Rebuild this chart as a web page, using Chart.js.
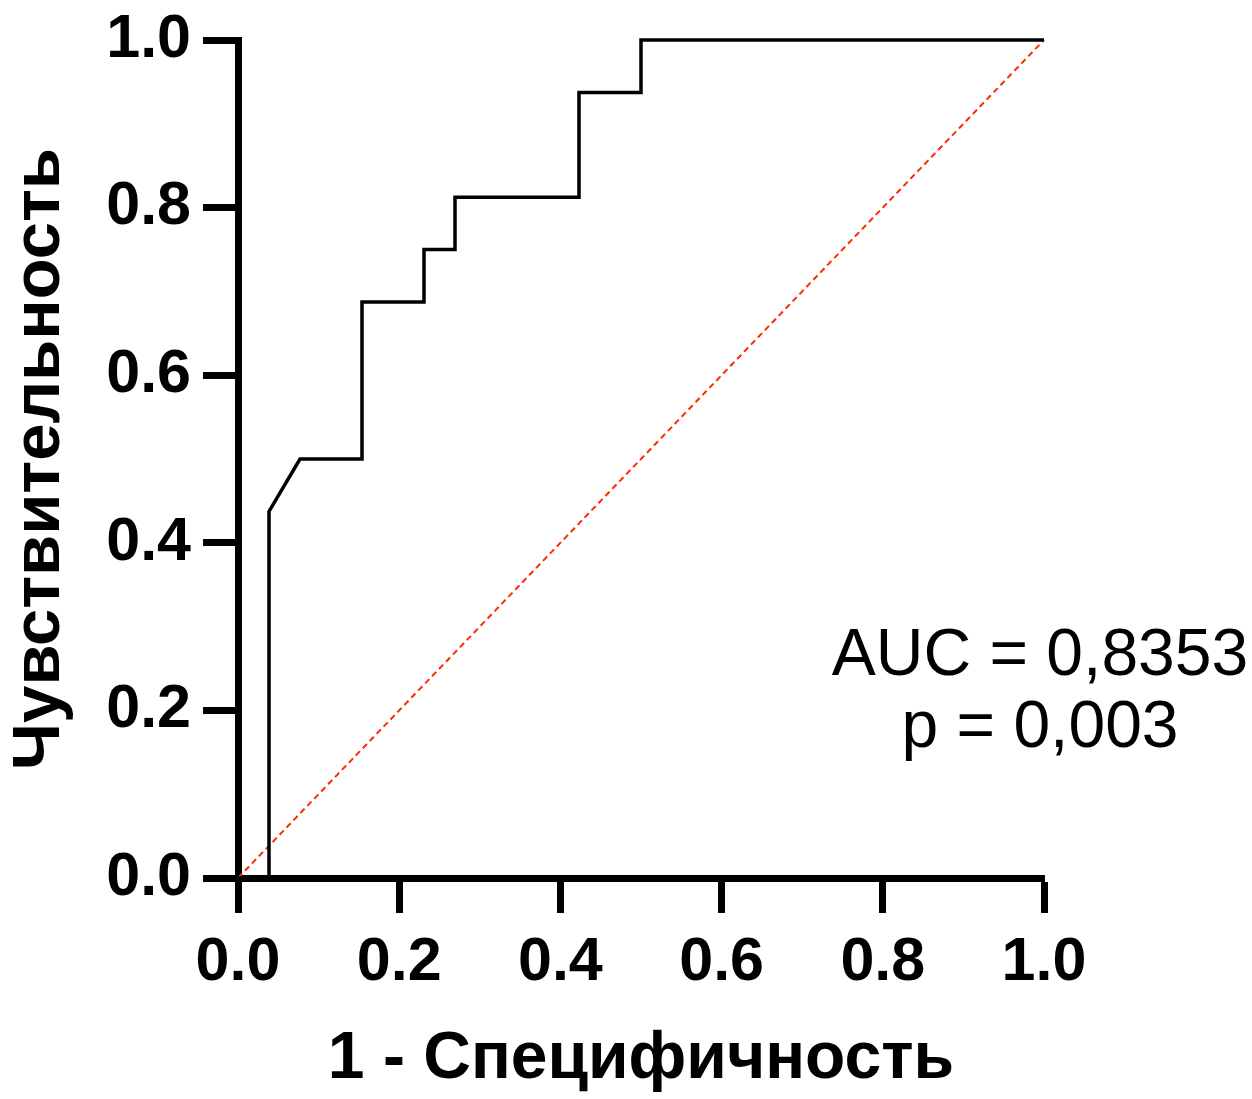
<!DOCTYPE html>
<html>
<head>
<meta charset="utf-8">
<script src="https://cdn.jsdelivr.net/npm/chart.js@4"></script>
<style>
    html, body { margin: 0; padding: 0; background: #fff; }
    #wrap { width: 1252px; height: 1099px; }
</style>
</head>
<body>
<div id="wrap"><canvas id="rocChart" width="1252" height="1099"></canvas></div>
<script>
// ROC curve (1 - specificity, sensitivity)
const fprValues = [0, 1/26, 1/26, 2/26, 4/26, 4/26, 6/26, 6/26, 7/26, 7/26, 11/26, 11/26, 13/26, 13/26, 1];
const tprValues = [0, 0, 7/16, 8/16, 8/16, 11/16, 11/16, 12/16, 12/16, 13/16, 13/16, 15/16, 15/16, 1, 1];
const refLine = [0, 1];
const tickLabels = ['0.0', '0.2', '0.4', '0.6', '0.8', '1.0'];
const xTitle = '1 - Специфичность';
const yTitle = 'Чувствительность';
const statLines = ['AUC = 0,8353', 'p = 0,003'];

const fontFamily = '"Liberation Sans", Arial, Helvetica, sans-serif';

const statsText = {
    id: 'statsText',
    afterDraw(chart) {
        const ctx = chart.ctx;
        const x = chart.scales.x.getPixelForValue(1.0);
        const y = chart.scales.y.getPixelForValue(0.24);
        ctx.save();
        ctx.fillStyle = '#000';
        ctx.font = '66px ' + fontFamily;
        ctx.textAlign = 'center';
        ctx.textBaseline = 'alphabetic';
        ctx.fillText(statLines[0], x - 4, y - 2);
        ctx.fillText(statLines[1], x - 4, y + 70);
        ctx.restore();
    }
};

const axisCommon = (title, titleSize) => ({
    type: 'linear',
    min: 0,
    max: 1,
    border: { display: true, color: '#000', width: 7 },
    grid: {
        drawOnChartArea: false,
        drawTicks: true,
        tickLength: 35,
        tickWidth: 7,
        tickColor: '#000',
    },
    ticks: {
        stepSize: 0.2,
        color: '#000',
        font: { family: fontFamily, size: 61, weight: 'bold' },
        callback: (value) => tickLabels[Math.round(value * 5)],
    },
    title: {
        display: true,
        text: title,
        color: '#000',
        font: { family: fontFamily, size: titleSize, weight: 'bold' },
    },
});

const xAxis = axisCommon(xTitle, 66);
xAxis.ticks.padding = 14;
xAxis.ticks.maxRotation = 0;
xAxis.title.padding = { top: 24, bottom: 0 };
xAxis.afterFit = (scale) => {
    scale.height = 221;
    scale.paddingLeft = 0;
    scale.paddingRight = 0;
};

const yAxis = axisCommon(yTitle, 67);
yAxis.ticks.padding = 12;
yAxis.title.padding = { top: 0, bottom: 6 };
yAxis.afterFit = (scale) => {
    scale.width = 238;
    scale.paddingTop = 0;
    scale.paddingBottom = 0;
};

new Chart(document.getElementById('rocChart'), {
    type: 'scatter',
    data: {
        datasets: [{
            label: 'ROC',
            data: fprValues.map((x, i) => ({ x: x, y: tprValues[i] })),
            showLine: true,
            borderColor: '#000',
            borderWidth: 3.5,
            pointRadius: 0,
            fill: false,
            clip: false,
            order: 1,
        }, {
            label: 'Reference',
            data: refLine.map((v) => ({ x: v, y: v })),
            showLine: true,
            borderColor: '#ff2a00',
            borderWidth: 2,
            borderDash: [6, 4],
            pointRadius: 0,
            fill: false,
            clip: false,
            order: 2,
        }]
    },
    options: {
        responsive: false,
        animation: false,
        devicePixelRatio: 1,
        layout: { padding: { left: 0, top: 40, right: 208, bottom: 0 } },
        plugins: {
            legend: { display: false },
            tooltip: { enabled: false },
        },
        scales: { x: xAxis, y: yAxis },
    },
    plugins: [statsText],
});
</script>
</body>
</html>
